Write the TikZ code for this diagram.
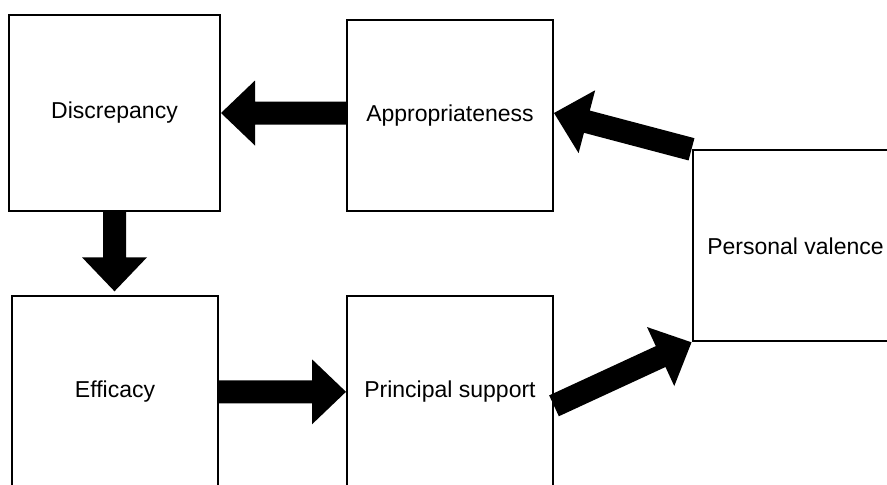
\documentclass[tikz,border=0pt]{standalone}
\usepackage{fontspec}
\setmainfont{Liberation Sans}
\usetikzlibrary{calc}
\tikzset{
  box/.style={draw=black, line width=1pt, fill=white, inner sep=0pt,
    minimum width=103pt, minimum height=95.5pt,
    font=\fontsize{11.5}{14}\selectfont}
}
\newcommand{\blkarrow}[2]{%
  \path (#1) coordinate (ba-s) (#2) coordinate (ba-t);
  \path ($(ba-t)!17pt!(ba-s)$) coordinate (ba-b);
  \fill[black] ($(ba-s)!5.75pt!90:(ba-t)$) -- ($(ba-b)!5.75pt!90:(ba-t)$)
    -- ($(ba-b)!16.25pt!90:(ba-t)$) -- (ba-t) -- ($(ba-b)!16.25pt!-90:(ba-t)$)
    -- ($(ba-b)!5.75pt!-90:(ba-t)$) -- ($(ba-s)!5.75pt!-90:(ba-t)$) -- cycle;}
\begin{document}
\begin{tikzpicture}[x=0.5pt,y=-0.5pt]
\useasboundingbox (0,0) rectangle (887,484);
\begin{scope}
\clip (0,0) rectangle (887,484);
\node[box, minimum width=105.5pt, minimum height=98pt] (disc) at (114.5,113) {Discrepancy};
\node[box] (app) at (450,115.5) {Appropriateness};
\node[box] (eff) at (115,391.8) {Efficacy};
\node[box] (ps) at (450,391.8) {Principal support};
\node[box] (pv) at (795.5,245.8) {Personal valence};
\path (disc.south |- eff.north) ++(0,-4) coordinate (t2);
\path (ps.east) ++(0,14) coordinate (s4);
\blkarrow{app.west |- disc.east}{disc.east}
\blkarrow{disc.south}{t2}
\blkarrow{eff.east}{eff.east -| ps.west}
\blkarrow{s4}{pv.south west}
\blkarrow{pv.north west}{app.east |- disc.east}
\end{scope}
\end{tikzpicture}
\end{document}
